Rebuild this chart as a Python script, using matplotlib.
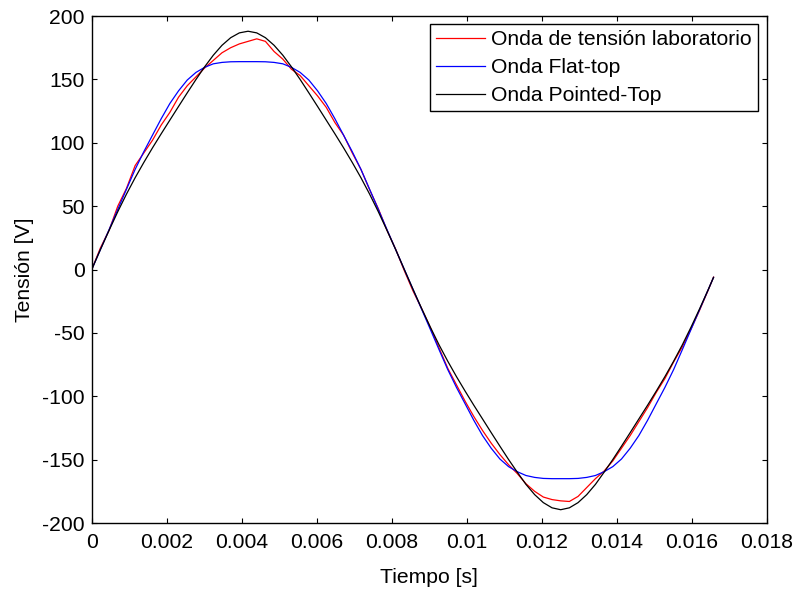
import matplotlib
matplotlib.use("Agg")
import matplotlib.pyplot as plt
import numpy as np

plt.rcParams['font.family'] = ['Liberation Sans', 'DejaVu Sans']
plt.rcParams['axes.unicode_minus'] = False

# time samples in ms (one every 5 degrees of the 60 Hz cycle, last one = end of record)
t_ms = [0, 0.231, 0.463, 0.694, 0.926, 1.157, 1.389, 1.620, 1.852, 2.083,
        2.315, 2.546, 2.778, 3.009, 3.241, 3.472, 3.704, 3.935, 4.167, 4.398,
        4.630, 4.861, 5.093, 5.324, 5.556, 5.787, 6.019, 6.250, 6.481, 6.713,
        6.944, 7.176, 7.407, 7.639, 7.870, 8.102, 8.333, 8.565, 8.796, 9.028,
        9.259, 9.491, 9.722, 9.954, 10.185, 10.417, 10.648, 10.880, 11.111, 11.343,
        11.574, 11.806, 12.037, 12.269, 12.500, 12.731, 12.963, 13.194, 13.426, 13.657,
        13.889, 14.120, 14.352, 14.583, 14.815, 15.046, 15.278, 15.509, 15.741, 15.972,
        16.204, 16.435, 16.574]

# lab voltage (red)
v_lab = [0, 17, 31, 50, 64, 82, 92, 102, 114, 124,
         136, 145, 152, 159, 165, 171, 175, 178, 180, 182,
         180, 172, 166, 158, 153, 145, 137, 128, 116, 106,
         92, 79, 63, 48, 31, 16, -1, -17, -31, -46,
         -62, -78, -91, -104, -116, -127, -137, -146, -154, -161,
         -169, -175, -179.5, -181.5, -182.5, -183, -179, -172, -165, -159,
         -151, -141, -131, -120, -109, -97, -86, -73, -61, -47,
         -32, -16, -6]

# flat-top wave (blue)
v_flat = [0, 15.7, 31.5, 47.4, 63.3, 79.0, 93.0, 106.0, 119.0, 131.0,
          141.0, 149.5, 155.5, 159.5, 162.3, 163.4, 163.9, 164.0, 164.0, 164.0,
          163.9, 163.4, 162.3, 159.5, 155.5, 149.5, 141.0, 131.0, 119.0, 106.0,
          93.0, 79.0, 63.3, 47.4, 31.5, 15.7, 0, -15.7, -31.5, -47.4,
          -63.3, -79.0, -93.0, -106.0, -119.0, -131.0, -141.0, -149.5, -155.5, -159.5,
          -162.5, -164.0, -164.8, -165.0, -165.0, -165.0, -164.8, -164.0, -162.5, -159.5,
          -155.5, -149.5, -141.0, -131.0, -119.0, -106.0, -93.0, -79.0, -63.3, -47.4,
          -31.5, -15.7, -6.2]

# pointed-top wave (black)
v_point = [0, 15.7, 30.9, 45.6, 59.5, 72.4, 84.5, 96.0, 107.1, 117.9,
           128.7, 139.4, 149.9, 159.9, 169.1, 176.9, 182.9, 186.7, 188.0, 186.7,
           182.9, 176.9, 169.1, 159.9, 149.9, 139.4, 128.7, 117.9, 107.1, 96.0,
           84.5, 72.4, 59.5, 45.6, 30.9, 15.7, 0, -15.7, -30.9, -45.6,
           -59.5, -72.4, -84.5, -96.0, -107.1, -117.9, -128.7, -139.4, -149.9, -159.9,
           -169.5, -177.6, -183.9, -188.0, -189.5, -188.0, -183.9, -177.6, -169.5, -159.9,
           -149.9, -139.4, -128.7, -117.9, -107.1, -96.0, -84.5, -72.4, -59.5, -45.6,
           -30.9, -15.7, -6.2]

series_labels = ['Onda de tensión laboratorio', 'Onda Flat-top', 'Onda Pointed-Top']
x_ticks = [0, 0.002, 0.004, 0.006, 0.008, 0.010, 0.012, 0.014, 0.016, 0.018]
x_tick_labels = ['0', '0.002', '0.004', '0.006', '0.008', '0.01', '0.012', '0.014', '0.016', '0.018']
y_ticks = [-200, -150, -100, -50, 0, 50, 100, 150, 200]

t = np.array(t_ms) / 1000.0

fig = plt.figure(figsize=(7.99, 5.89), dpi=100)
ax = fig.add_axes([0.1148, 0.112, 0.8452, 0.8608])

ax.plot(t, v_lab, color='#ff0000', lw=0.9, label=series_labels[0])
ax.plot(t, v_flat, color='#0000ff', lw=0.9, label=series_labels[1])
ax.plot(t, v_point, color='#000000', lw=0.9, label=series_labels[2])

ax.set_xlim(0, 0.018)
ax.set_ylim(-200, 200)
ax.set_xticks(x_ticks)
ax.set_xticklabels(x_tick_labels)
ax.set_yticks(y_ticks)
ax.tick_params(direction='in', top=True, right=True, length=3.6, width=0.8,
               labelsize=15.2, pad=5)
ax.tick_params(axis='x', pad=7)
for s in ax.spines.values():
    s.set_linewidth(1.0)

ax.set_xlabel('Tiempo [s]', fontsize=15.2, labelpad=12)
ax.set_ylabel('Tensión [V]', fontsize=15.2, labelpad=6)

leg = ax.legend(loc='upper right', bbox_to_anchor=(758 / 799, 1 - 24 / 589),
                bbox_transform=fig.transFigure, borderaxespad=0,
                prop={'size': 15.2}, fancybox=False, framealpha=1, edgecolor='black',
                handlelength=2.3, handletextpad=0.3, labelspacing=0.42,
                borderpad=0.3)
leg.get_frame().set_linewidth(1.0)

fig.savefig('out.png', dpi=100)
